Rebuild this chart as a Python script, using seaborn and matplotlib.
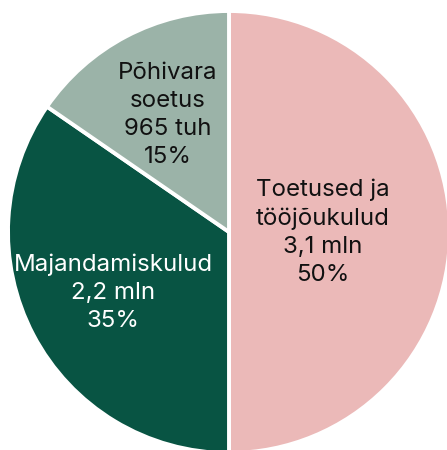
import matplotlib
matplotlib.use("Agg")
import matplotlib.pyplot as plt
import seaborn as sns
import numpy as np

categories = ["Toetused ja\ntööjõukulud", "Majandamiskulud", "Põhivara\nsoetus"]
amounts = ["3,1 mln", "2,2 mln", "965 tuh"]
percents = [50.0, 34.6, 15.4]
colors = ["#ebb9b8", "#085443", "#9bb3a8"]
text_colors = ["#111111", "#ffffff", "#111111"]

sns.set_theme(style="white")
plt.rcParams["font.family"] = ["Inter", "DejaVu Sans"]

fig = plt.figure(figsize=(4.47, 4.50), dpi=100)
fig.patch.set_facecolor("white")
ax = fig.add_axes([8 / 447, -3 / 450, 442 / 447, 442 / 450])

wedges, _ = ax.pie(percents, colors=colors, startangle=90, counterclock=False,
                   radius=1, wedgeprops=dict(edgecolor="white", linewidth=2.8))
ax.set_xlim(-1, 1)
ax.set_ylim(-1, 1)
ax.set_aspect("equal")
ax.axis("off")

label_r = [0.425, 0.593, 0.598]
for w, cat, amt, pct, tc, r in zip(wedges, categories, amounts, percents, text_colors, label_r):
    ang = np.deg2rad((w.theta1 + w.theta2) / 2)
    x, y = r * np.cos(ang), r * np.sin(ang)
    ax.text(x, y, f"{cat}\n{amt}\n{round(pct):.0f}%", ha="center", va="center",
            fontsize=17.3, color=tc, linespacing=1.36)

fig.savefig("out.png", dpi=100)
